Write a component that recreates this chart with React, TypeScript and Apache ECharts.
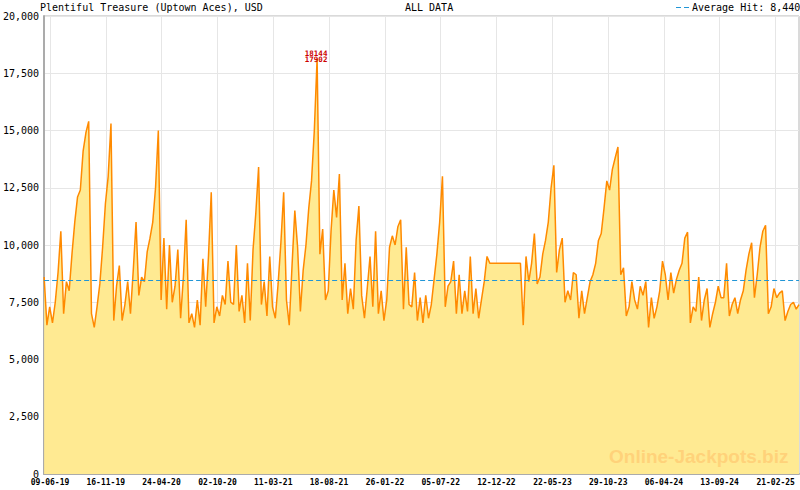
import React, { useEffect, useRef } from "react";
import * as echarts from "echarts";

// ---- data ----
const START_UTC = Date.UTC(2019, 4, 23); // first day drawn on the axis
const DAY_COUNT = 2169; // days shown on the axis
const STEP_DAYS = 8; // spacing of the readings below
const MINOR_PER_MAJOR = 7;

const tickLabels = [
  "09-06-19", "16-11-19", "24-04-20", "02-10-20", "11-03-21", "18-08-21", "26-01-22",
  "05-07-22", "12-12-22", "22-05-23", "29-10-23", "06-04-24", "13-09-24", "21-02-25",
];

const jackpotValues = [
  8600, 6500, 7300, 6600, 7500, 8800, 10600, 7000, 8400, 8000,
  9600, 11000, 12100, 12400, 14100, 14900, 15400, 7000, 6400, 7300,
  8300, 9900, 11800, 13000, 15300, 6700, 8200, 9100, 6700, 7400,
  8400, 7000, 8900, 11000, 7800, 8600, 8400, 9700, 10300, 11000,
  12500, 15000, 7600, 10300, 7200, 10000, 7500, 8200, 9800, 6800,
  8600, 11100, 6600, 7000, 6400, 7600, 6500, 9400, 7300, 9500,
  12300, 6600, 7300, 6900, 7800, 7400, 9300, 7500, 7400, 10000,
  7100, 7800, 6600, 9200, 6700, 9800, 11400, 13400, 7400, 8400,
  6900, 9500, 7300, 6800, 8300, 10100, 12300, 7600, 6500, 9100,
  11500, 9900, 7100, 8900, 10000, 11600, 12800, 15000, 18144, 9600,
  10700, 7600, 8000, 10600, 12400, 11200, 13100, 7600, 9200, 7000,
  8100, 7200, 10200, 11700, 7800, 6800, 8100, 9500, 7300, 10600,
  7000, 8000, 6700, 7600, 9900, 10400, 10000, 10800, 11100, 7200,
  9900, 7400, 7300, 8800, 6700, 7700, 6600, 7800, 6800, 7400,
  8500, 9600, 11000, 13000, 7300, 8200, 8400, 9300, 7000, 8700,
  7000, 8000, 7100, 9500, 7000, 8100, 6800, 7600, 8400, 9500,
  9200, 9200, 9200, 9200, 9200, 9200, 9200, 9200, 9200, 9200,
  9200, 9200, 6500, 9500, 8400, 9200, 10500, 8300, 8600, 9600,
  10200, 11000, 12500, 13480, 8800, 9800, 10300, 7500, 8000, 7600,
  8800, 8700, 6800, 8000, 7000, 7700, 8400, 8700, 9200, 10200,
  10500, 11600, 12800, 12400, 13300, 13800, 14280, 8700, 9000, 6900,
  7300, 8400, 7600, 7200, 8200, 7800, 8400, 6400, 7700, 6800,
  7300, 8000, 9300, 8700, 7600, 8800, 7900, 8500, 8900, 9200,
  10300, 10560, 6600, 7300, 7100, 8600, 6700, 7600, 8100, 6400,
  7000, 7500, 8200, 7700, 7700, 9200, 6900, 7400, 7700, 7000,
  7600, 8000, 8900, 9600, 10100, 7700, 8700, 9900, 10600, 10860,
  7000, 7300, 8100, 7700, 7900, 8000, 6700, 7100, 7400, 7500,
  7200, 7400,
];

const AVERAGE_HIT = 8440;
const PEAK_SAMPLE = 98;
const PEAK_LABELS = ["18144", "17902"];
const TITLE = "Plentiful Treasure (Uptown Aces), USD";
const PERIOD = "ALL DATA";
const LEGEND_TEXT = "Average Hit: 8,440";
const WATERMARK = "Online-Jackpots.biz";

// ---- helpers ----
const pad = (n: number) => String(n).padStart(2, "0");
const fmtDate = (ms: number) => {
  const d = new Date(ms);
  return `${pad(d.getUTCDate())}-${pad(d.getUTCMonth() + 1)}-${pad(d.getUTCFullYear() % 100)}`;
};

const categories = Array.from({ length: DAY_COUNT }, (_, i) => fmtDate(START_UTC + i * 86400000));
const seriesData = jackpotValues.map((v, i) => [i * STEP_DAYS, v]);

const majorIdx = tickLabels.map((t) => categories.indexOf(t)).filter((i) => i >= 0);
const majorSet = new Set<number>(majorIdx);
const minorSet = new Set<number>();
{
  const avgGap = (majorIdx[majorIdx.length - 1] - majorIdx[0]) / (majorIdx.length - 1);
  for (let m = 0; m < majorIdx.length; m++) {
    const a = majorIdx[m];
    const gap = m + 1 < majorIdx.length ? majorIdx[m + 1] - a : avgGap;
    for (let k = 1; k < MINOR_PER_MAJOR; k++) {
      const idx = Math.round(a + (k * gap) / MINOR_PER_MAJOR);
      if (idx < DAY_COUNT - 1) minorSet.add(idx);
    }
  }
}
const isMajor = (i: number) => majorSet.has(i);

const MONO = '"DejaVu Sans Mono", monospace';
const AXIS_GRAY = "#ababab";
const TICK_GRAY = "#a0a4b4";
const GRID_GRAY = "#e6e6e6";
const AVG_BLUE = "#2196d6";

export default function App() {
  const ref = useRef<HTMLDivElement>(null);
  useEffect(() => {
    if (!ref.current) return;
    const chart = echarts.init(ref.current, undefined, { renderer: "svg" });
    chart.setOption({
      animation: false,
      backgroundColor: "#ffffff",
      grid: {
        left: 40,
        right: 1,
        top: 16,
        bottom: 16,
        show: true,
        borderColor: "#b5b5b5",
        borderWidth: 1,
      },
      xAxis: [
        {
          type: "category",
          data: categories,
          boundaryGap: false,
          position: "bottom",
          axisLine: { show: true, lineStyle: { color: AXIS_GRAY, width: 2 } },
          axisTick: {
            show: true,
            inside: true,
            length: 5,
            interval: (i: number) => isMajor(i),
            lineStyle: { color: TICK_GRAY },
          },
          axisLabel: {
            interval: (i: number) => isMajor(i),
            color: "#000",
            fontFamily: MONO,
            fontSize: 8,
            fontWeight: "bold",
            margin: 4,
          },
          splitLine: {
            show: true,
            interval: (i: number) => isMajor(i),
            lineStyle: { color: GRID_GRAY, width: 1 },
          },
        },
        {
          type: "category",
          data: categories,
          boundaryGap: false,
          position: "bottom",
          axisLine: { show: false },
          axisLabel: { show: false },
          splitLine: { show: false },
          axisTick: {
            show: true,
            inside: true,
            length: 3,
            interval: (i: number) => minorSet.has(i),
            lineStyle: { color: TICK_GRAY },
          },
        },
      ],
      yAxis: {
        type: "value",
        min: 0,
        max: 20000,
        interval: 2500,
        axisLine: { show: true, lineStyle: { color: AXIS_GRAY, width: 2 } },
        axisTick: { show: false },
        axisLabel: {
          color: "#000",
          fontFamily: MONO,
          fontSize: 10,
          margin: 5,
          formatter: (v: number) => v.toLocaleString("en-US"),
        },
        splitLine: { show: true, lineStyle: { color: GRID_GRAY, width: 1 } },
      },
      series: [
        {
          type: "line",
          xAxisIndex: 0,
          data: seriesData,
          showSymbol: false,
          symbol: "none",
          lineStyle: { color: "#ff8a00", width: 1.5 },
          itemStyle: { color: "#ff8a00" },
          areaStyle: { color: "#ffea92", opacity: 1 },
          markLine: {
            silent: true,
            symbol: "none",
            label: { show: false },
            lineStyle: { color: AVG_BLUE, type: [5, 3], width: 1.2 },
            data: [{ yAxis: AVERAGE_HIT }],
          },
          markPoint: {
            silent: true,
            symbol: "circle",
            symbolSize: 0,
            itemStyle: { color: "transparent" },
            label: {
              show: true,
              position: "inside",
              color: "#cc0000",
              fontFamily: MONO,
              fontSize: 7.5,
              fontWeight: "bold",
            },
            data: [
              {
                coord: [PEAK_SAMPLE * STEP_DAYS, jackpotValues[PEAK_SAMPLE]],
                label: { formatter: PEAK_LABELS[0], offset: [-1, -5] },
              },
              {
                coord: [PEAK_SAMPLE * STEP_DAYS, jackpotValues[PEAK_SAMPLE]],
                label: { formatter: PEAK_LABELS[1], offset: [-1, 1] },
              },
            ],
          },
        },
      ],
      graphic: [
        {
          type: "text",
          left: 40,
          top: 2,
          style: { text: TITLE, font: `10px ${MONO}`, fill: "#000" },
        },
        {
          type: "text",
          left: 405,
          top: 2,
          style: { text: PERIOD, font: `10px ${MONO}`, fill: "#000" },
        },
        {
          type: "line",
          shape: { x1: 676, y1: 7.5, x2: 689, y2: 7.5 },
          style: { stroke: AVG_BLUE, lineWidth: 1.2, lineDash: [5, 3] },
        },
        {
          type: "text",
          left: 692,
          top: 2,
          style: { text: LEGEND_TEXT, font: `10px ${MONO}`, fill: "#000" },
        },
        {
          type: "text",
          left: 609,
          top: 447,
          z: 100,
          style: {
            text: WATERMARK,
            font: 'bold 19px "Liberation Sans", Arial, sans-serif',
            fill: "#ffd27a",
          },
        },
      ],
    });
    return () => chart.dispose();
  }, []);
  return (
    <div
      ref={ref}
      style={{ position: "fixed", left: 0, top: 0, width: 800, height: 490 }}
    />
  );
}
